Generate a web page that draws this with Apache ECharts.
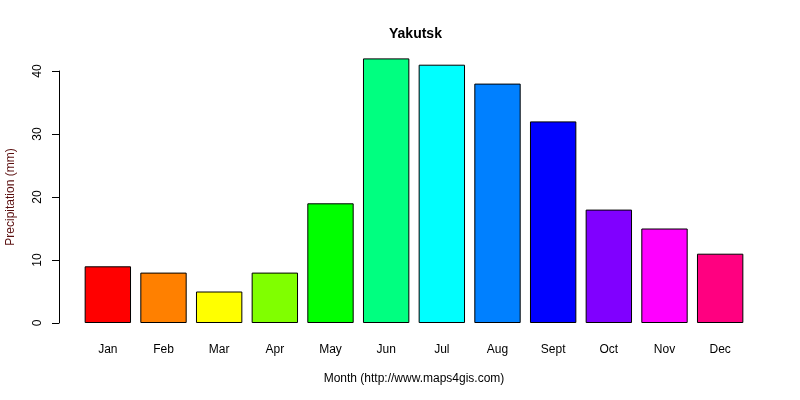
<!DOCTYPE html>
<html>
<head>
<meta charset="utf-8">
<script src="https://cdn.jsdelivr.net/npm/echarts@6/dist/echarts.min.js"></script>
<style>
  html, body { margin: 0; padding: 0; background: #fff; }
  #chart { width: 800px; height: 400px; }
</style>
</head>
<body>
<div id="chart"></div>
<script>
// monthly precipitation, Yakutsk
var months = ['Jan', 'Feb', 'Mar', 'Apr', 'May', 'Jun', 'Jul', 'Aug', 'Sept', 'Oct', 'Nov', 'Dec'];
var precip = [9, 8, 5, 8, 19, 42, 41, 38, 32, 18, 15, 11];
// R rainbow(12)
var barColors = ['#FF0000', '#FF8000', '#FFFF00', '#80FF00', '#00FF00', '#00FF80',
                 '#00FFFF', '#0080FF', '#0000FF', '#8000FF', '#FF00FF', '#FF0080'];
var yTicks = [0, 10, 20, 30, 40];

var font = 'Liberation Sans, Arial, sans-serif';
var chart = echarts.init(document.getElementById('chart'));

chart.setOption({
    animation: false,
    backgroundColor: '#fff',
    title: {
        text: 'Yakutsk',
        left: 384,
        top: 22,
        textStyle: { fontFamily: font, fontSize: 14, fontWeight: 'bold', color: '#000' }
    },
    grid: { left: 80, right: 52, top: 71, bottom: 77, outerBoundsMode: 'none', containLabel: false },
    xAxis: {
        type: 'category',
        data: months,
        axisLine: { show: false },
        axisTick: { show: false },
        axisLabel: { margin: 21, fontFamily: font, fontSize: 12, color: '#000', interval: 0 },
        name: 'Month (http://www.maps4gis.com)',
        nameLocation: 'middle',
        nameGap: 50,
        nameTextStyle: { fontFamily: font, fontSize: 12, color: '#000' }
    },
    yAxis: {
        type: 'value',
        min: yTicks[0],
        max: yTicks[yTicks.length - 1],
        interval: 10,
        offset: 21,
        splitLine: { show: false },
        axisLine: { show: true, lineStyle: { color: '#000', width: 1 } },
        axisTick: { show: true, length: 7, lineStyle: { color: '#000' } },
        axisLabel: { rotate: 90, margin: 15, fontFamily: font, fontSize: 12, color: '#000' },
        name: 'Precipitation (mm)',
        nameLocation: 'middle',
        nameGap: 42,
        nameTextStyle: { fontFamily: font, fontSize: 12, color: '#5a0f0f' }
    },
    series: [{
        type: 'bar',
        data: precip.map(function (v, i) {
            return { value: v, itemStyle: { color: barColors[i] } };
        }),
        barCategoryGap: '16.7%',
        clip: false,
        itemStyle: { borderColor: '#000', borderWidth: 1 }
    }]
});
</script>
</body>
</html>
